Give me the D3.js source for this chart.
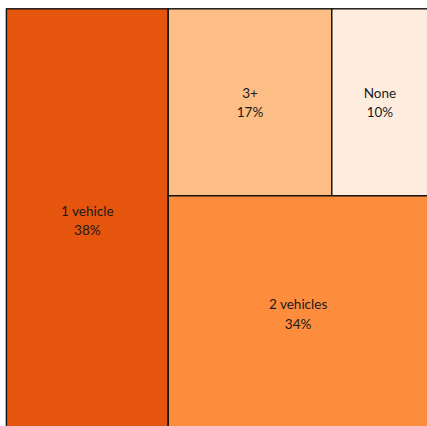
<!DOCTYPE html>
<html><head><meta charset="utf-8">
<script src="https://cdn.jsdelivr.net/npm/d3@7"></script>
<style>html,body{margin:0;padding:0;background:#fff;overflow:hidden}</style>
</head><body>
<script>
const categories = ["1 vehicle", "2 vehicles", "3+", "None"];
const values = [38, 34, 17, 10];
const colors = ["#e6550d", "#fd8d3c", "#fdbe85", "#feedde"];

const W = 427, H = 426;
const svg = d3.select("body").append("svg").attr("width", W).attr("height", H);

// nested structure: [1 vehicle, [[3+, None], 2 vehicles]]
const leaf = i => ({name: categories[i], value: values[i], color: colors[i]});
const data = {children: [leaf(0), {children: [{children: [leaf(2), leaf(3)]}, leaf(1)]}]};

const root = d3.hierarchy(data).sum(d => d.value || 0);
d3.treemap().tile(d3.treemapSliceDice).size([421.6, 422.5]).round(false)(root);

const total = d3.sum(values);
const g = svg.append("g").attr("transform", "translate(6.4,8.8)");
const cells = g.selectAll("g.cell").data(root.leaves()).join("g").attr("class", "cell");
cells.append("rect")
  .attr("x", d => d.x0).attr("y", d => d.y0)
  .attr("width", d => d.x1 - d.x0).attr("height", d => d.y1 - d.y0)
  .attr("fill", d => d.data.color)
  .attr("stroke", "#111").attr("stroke-width", 1.4);
const txt = cells.append("text")
  .attr("text-anchor", "middle")
  .attr("font-family", "Lato, 'DejaVu Sans', sans-serif")
  .attr("font-size", 13.5)
  .attr("fill", "#1a1a1a");
txt.append("tspan")
  .attr("x", d => (d.x0 + d.x1) / 2)
  .attr("y", d => (d.y0 + d.y1) / 2 - 4.5)
  .text(d => d.data.name);
txt.append("tspan")
  .attr("x", d => (d.x0 + d.x1) / 2)
  .attr("y", d => (d.y0 + d.y1) / 2 + 15)
  .text(d => Math.round(d.data.value / total * 100) + "%");
</script>
</body></html>
